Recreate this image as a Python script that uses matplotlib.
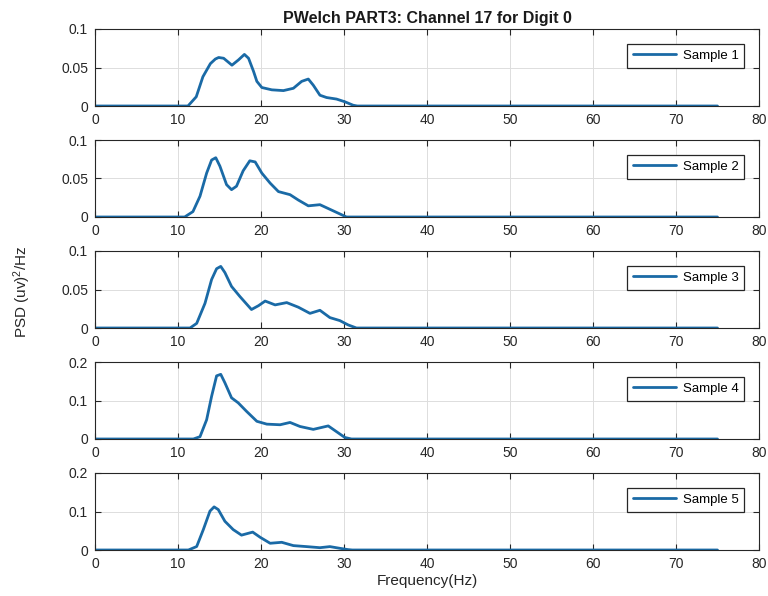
import matplotlib
matplotlib.use("Agg")
import matplotlib.pyplot as plt

plt.rcParams["font.family"] = ["Liberation Sans", "DejaVu Sans"]
plt.rcParams["mathtext.default"] = "regular"

# Welch PSD estimates (frequency in Hz, PSD in (uv)^2/Hz)
freq_1 = [0, 11.2, 12.2, 13.0, 13.9, 14.5, 14.9, 15.5, 16.5, 17.3, 18.0, 18.5, 19.1, 19.5,
          20.1, 21.3, 22.7, 23.9, 24.9, 25.7, 26.3, 27.1, 27.9, 29.1, 30.1, 31.1, 31.6, 75]
psd_1 = [0, 0, 0.012, 0.038, 0.055, 0.061, 0.063, 0.062, 0.053, 0.060, 0.067, 0.062, 0.045, 0.032,
         0.024, 0.021, 0.020, 0.023, 0.032, 0.035, 0.027, 0.014, 0.011, 0.009, 0.0055, 0.001, 0, 0]

freq_2 = [0, 10.8, 11.8, 12.65, 13.45, 14.05, 14.55, 15.05, 15.85, 16.45, 17.05, 17.85,
          18.65, 19.3, 20.1, 21.1, 22.1, 23.5, 24.5, 25.7, 27.1, 28.3, 29.3, 30.3, 75]
psd_2 = [0, 0, 0.007, 0.027, 0.057, 0.074, 0.077, 0.066, 0.042, 0.0355, 0.040, 0.060,
         0.073, 0.0715, 0.057, 0.044, 0.033, 0.029, 0.022, 0.0145, 0.016, 0.010, 0.005, 0, 0]

freq_3 = [0, 11.45, 12.25, 13.25, 14.05, 14.65, 15.15, 15.65, 16.45, 17.45, 18.85, 19.7,
          20.5, 21.7, 23.1, 24.5, 25.9, 27.1, 28.3, 29.5, 30.5, 31.5, 75]
psd_3 = [0, 0, 0.006, 0.032, 0.063, 0.077, 0.080, 0.072, 0.054, 0.041, 0.024, 0.029,
         0.035, 0.030, 0.033, 0.027, 0.019, 0.023, 0.0135, 0.0096, 0.004, 0, 0]

freq_4 = [0, 11.85, 12.65, 13.45, 14.05, 14.65, 15.15, 15.65, 16.45, 17.25, 18.25, 19.5,
          20.7, 22.3, 23.5, 24.7, 26.3, 28.1, 29.1, 30.1, 30.9, 75]
psd_4 = [0, 0, 0.006, 0.050, 0.111, 0.164, 0.168, 0.146, 0.107, 0.094, 0.072, 0.046,
         0.0386, 0.037, 0.043, 0.0325, 0.025, 0.034, 0.019, 0.004, 0, 0]

freq_5 = [0, 11.25, 12.25, 13.05, 13.85, 14.35, 14.85, 15.65, 16.65, 17.65, 19.0, 19.9,
          21.1, 22.5, 23.9, 25.5, 27.1, 28.3, 29.5, 30.5, 31.0, 75]
psd_5 = [0, 0, 0.009, 0.053, 0.101, 0.112, 0.105, 0.0746, 0.053, 0.0386, 0.0465, 0.033,
         0.0175, 0.020, 0.0114, 0.0088, 0.006, 0.0088, 0.0044, 0.001, 0, 0]

labels = ["Sample 1", "Sample 2", "Sample 3", "Sample 4", "Sample 5"]
x_ticks = [0, 10, 20, 30, 40, 50, 60, 70, 80]
y_ticks_small = [0, 0.05, 0.1]
y_ticks_large = [0, 0.1, 0.2]
y_tick_labels_small = ["0", "0.05", "0.1"]
y_tick_labels_large = ["0", "0.1", "0.2"]

series = [(freq_1, psd_1), (freq_2, psd_2), (freq_3, psd_3), (freq_4, psd_4), (freq_5, psd_5)]

W, H = 768, 596
fig = plt.figure(figsize=(W / 100, H / 100), dpi=100)

left_px, right_px = 95, 759
bottoms_px = [106, 217, 328, 439, 550]
height_px = 77
line_color = "#1a6aa6"
edge = "#262626"

axes = []
for i, (f, p) in enumerate(series):
    ax = fig.add_axes([left_px / W, 1 - bottoms_px[i] / H,
                       (right_px - left_px) / W, height_px / H])
    ax.plot(f, p, color=line_color, lw=2.0, solid_joinstyle="round",
            solid_capstyle="round", label=labels[i])
    ax.set_xlim(0, 80)
    ax.set_xticks(x_ticks)
    ax.set_xticklabels([str(t) for t in x_ticks])
    if i < 3:
        ax.set_ylim(0, 0.1)
        ax.set_yticks(y_ticks_small)
        ax.set_yticklabels(y_tick_labels_small)
    else:
        ax.set_ylim(0, 0.2)
        ax.set_yticks(y_ticks_large)
        ax.set_yticklabels(y_tick_labels_large)
    ax.grid(True, color="#dddddd", lw=0.7)
    ax.set_axisbelow(True)
    ax.tick_params(direction="in", length=4, width=0.8, top=True, right=True,
                   labelsize=10, colors=edge, labelcolor="#262626", pad=5)
    for s in ax.spines.values():
        s.set_color(edge)
        s.set_linewidth(0.8)
    leg = ax.legend(loc="upper right", fontsize=9.5, handlelength=3.3,
                    fancybox=False, framealpha=1, borderaxespad=1.1,
                    borderpad=0.45, handletextpad=0.5)
    leg.get_frame().set_edgecolor("#262626")
    leg.get_frame().set_linewidth(0.9)
    axes.append(ax)

axes[0].set_title("PWelch PART3: Channel 17 for Digit 0", fontsize=11.5,
                  fontweight="bold", pad=4, color="#1a1a1a")
axes[-1].set_xlabel("Frequency(Hz)", fontsize=11, labelpad=2, color="#262626")
fig.text(22 / W, 1 - 292 / H, "PSD (uv)$^2$/Hz", rotation=90, fontsize=11,
         ha="center", va="center", color="#262626")

fig.savefig("out.png", dpi=100)
